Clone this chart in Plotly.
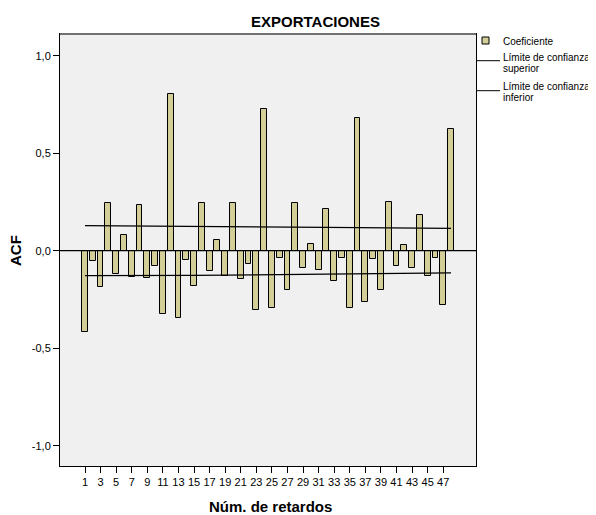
import plotly.graph_objects as go

lags = list(range(1, 49))
acf = [-0.417, -0.055, -0.186, 0.246, -0.121, 0.082, -0.137, 0.236, -0.142, -0.080,
       -0.325, 0.803, -0.344, -0.046, -0.183, 0.246, -0.106, 0.056, -0.132, 0.246,
       -0.145, -0.068, -0.304, 0.727, -0.292, -0.038, -0.202, 0.246, -0.089, 0.034,
       -0.097, 0.214, -0.156, -0.038, -0.296, 0.679, -0.262, -0.041, -0.202, 0.250,
       -0.079, 0.027, -0.089, 0.183, -0.130, -0.038, -0.278, 0.622]
limit_lags = [1, 15, 32, 48]
upper_limit = [0.128, 0.125, 0.119, 0.114]
lower_limit = [-0.128, -0.127, -0.120, -0.114]
xtick_vals = list(range(1, 48, 2))
ytick_vals = [1.0, 0.5, 0.0, -0.5, -1.0]
ytick_text = ["1,0", "0,5", "0,0", "-0,5", "-1,0"]

BAR = "#d3ce97"
FONT = "Liberation Sans, Arial, sans-serif"

fig = go.Figure()
fig.add_trace(go.Bar(x=lags, y=acf, width=0.75, marker=dict(color=BAR, line=dict(color="black", width=1)),
                     name="Coeficiente", showlegend=False))
fig.add_trace(go.Scatter(x=limit_lags, y=upper_limit, mode="lines", line=dict(color="black", width=1.3),
                         showlegend=False))
fig.add_trace(go.Scatter(x=limit_lags, y=lower_limit, mode="lines", line=dict(color="black", width=1.3),
                         showlegend=False))

# page body has an 8px margin; work in page pixels and offset
OFF = 8
L, R, T, B = 60, 476, 34, 466
W, H = 596, 515
def px(x): return (x - L) / (R - L)
def py(y): return (B - y) / (B - T)

shapes = [
    dict(type="line", xref="paper", yref="y", x0=0, x1=1, y0=0, y1=0, line=dict(color="black", width=1.3)),
    dict(type="line", xref="paper", yref="paper", x0=0, x1=1, y0=1, y1=1, line=dict(color="#707070", width=2)),
    dict(type="rect", xref="paper", yref="paper", x0=px(482), x1=px(489), y0=py(44), y1=py(37),
         fillcolor=BAR, line=dict(color="black", width=1)),
    dict(type="line", xref="paper", yref="paper", x0=px(476), x1=px(500), y0=py(60.7), y1=py(60.7),
         line=dict(color="black", width=1)),
    dict(type="line", xref="paper", yref="paper", x0=px(476), x1=px(500), y0=py(90.7), y1=py(90.7),
         line=dict(color="black", width=1)),
]

def txt(x, y, s, size=10, bold=False, xanchor="left", angle=0):
    return dict(xref="paper", yref="paper", x=px(x), y=py(y), text=("<b>%s</b>" % s) if bold else s,
                showarrow=False, xanchor=xanchor, yanchor="middle", textangle=angle,
                font=dict(family=FONT, size=size, color="black"))

annotations = [
    txt(315.5, 21, "EXPORTACIONES", size=15, bold=True, xanchor="center"),
    txt(270, 506, "Núm. de retardos", size=15, bold=True, xanchor="center"),
    txt(15, 251, "ACF", size=15, bold=True, xanchor="center", angle=-90),
    txt(501, 41, "Coeficiente"),
    txt(501, 57.5, "Límite de confianza"),
    txt(501, 68.5, "superior"),
    txt(501, 86.5, "Límite de confianza"),
    txt(501, 97.5, "inferior"),
]

fig.update_layout(
    width=W - OFF, height=H - OFF,
    margin=dict(l=L - OFF, r=W - R, t=T - OFF, b=H - B, pad=0),
    paper_bgcolor="white", plot_bgcolor="#f0f0f0",
    font=dict(family=FONT, size=11, color="black"),
    bargap=0, shapes=shapes, annotations=annotations, showlegend=False,
    xaxis=dict(range=[-2.21, 51.21], tickmode="array", tickvals=xtick_vals, ticks="outside", ticklen=6,
               tickcolor="black", showgrid=False, zeroline=False, showline=True, linecolor="black",
               linewidth=1, mirror=True, tickfont=dict(size=11)),
    yaxis=dict(range=[-1.104, 1.111], tickmode="array", tickvals=ytick_vals, ticktext=ytick_text,
               ticks="outside", ticklen=6, tickcolor="black", showgrid=False, zeroline=False,
               showline=True, linecolor="black", linewidth=1, mirror=True, tickfont=dict(size=11)),
)

fig.write_html("out.html")
